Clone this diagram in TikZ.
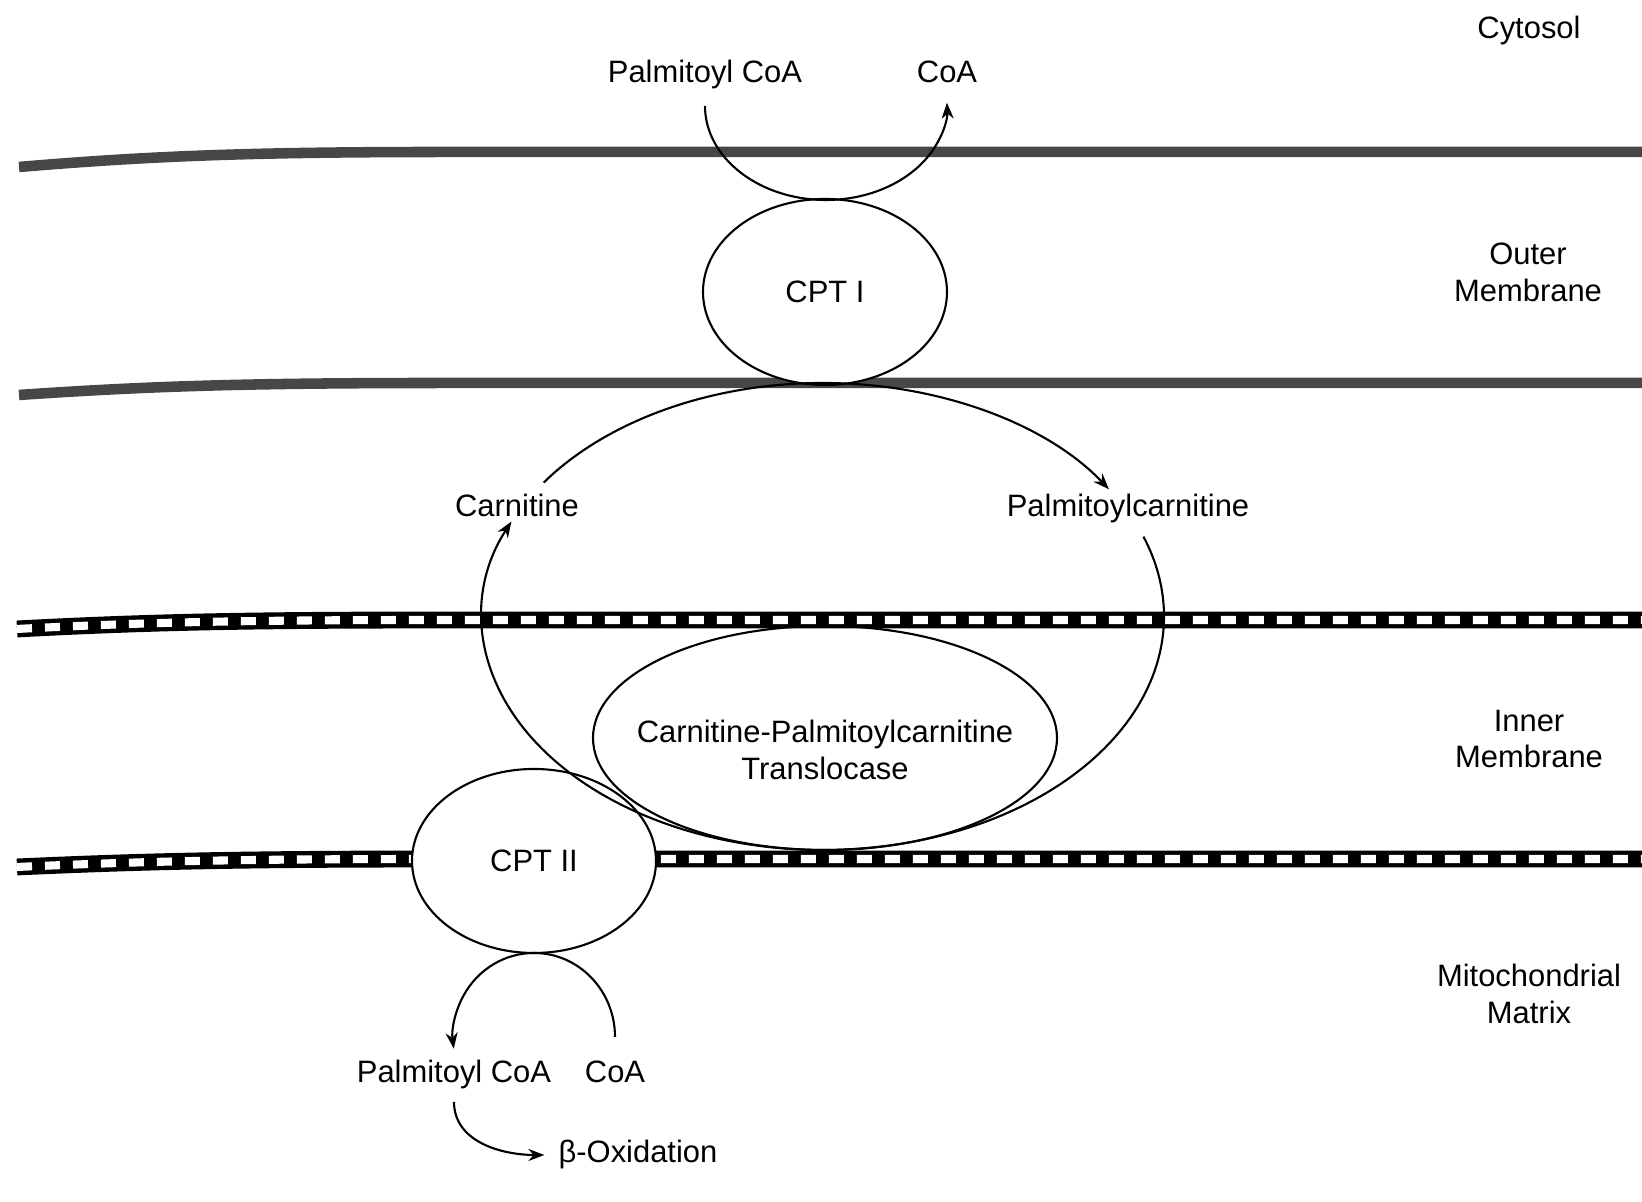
\documentclass[tikz,border=0pt]{standalone}
\usepackage{fontspec}
\setmainfont{Liberation Sans}
\usepackage{tikz}
\usetikzlibrary{arrows.meta}
\usetikzlibrary{shapes.geometric}

\tikzset{
  lbl/.style={font=\fontsize{8.8}{10.5}\selectfont,align=center,inner sep=1pt},
  word/.style={lbl,text height=6.4pt,text depth=1.9pt},
  enz/.style={draw,ellipse,line width=0.6pt,inner sep=0pt,font=\fontsize{8.8}{10.5}\selectfont,align=center},
  flow/.style={line width=0.6pt,-{Stealth[length=1.6mm,width=1.2mm]}},
  outermem/.style={line width=3pt,draw=black!72},
  innermem/.style={line width=2.3pt,draw=white,dash pattern=on 0.15cm off 0.13cm,
    preaction={draw=black,line width=4.8pt,solid}}
}

\begin{document}
\begin{tikzpicture}
        \useasboundingbox (0,0) rectangle (16.42,12.02);
        \draw[outermem] (0.19,10.35) .. controls (1.5,10.46) and (2.5,10.50) .. (4.5,10.50) -- (16.42,10.50);
        \draw[outermem] (0.19,8.07) .. controls (1.5,8.16) and (2.5,8.19) .. (4.5,8.19) -- (16.42,8.19);
        \draw[innermem] (0.17,5.73) .. controls (1.5,5.80) and (2.5,5.82) .. (4.5,5.82) -- (16.42,5.82);
        \draw[innermem] (0.17,3.35) .. controls (1.5,3.41) and (2.5,3.43) .. (4.5,3.43) -- (16.42,3.43);
        \node[enz,fill=white,minimum width=2.44cm,minimum height=1.86cm] (cpt1) at (8.25,9.10) {CPT I};
        \node[enz,fill=white,minimum width=2.44cm,minimum height=1.84cm] (cpt2) at (5.34,3.41) {CPT II};
        \node[enz,minimum width=4.64cm,minimum height=2.24cm,
          label={[lbl,yshift=-1.2mm]center:Carnitine-Palmitoylcarnitine\\Translocase}] (trans) at (8.25,4.64) {};
        \coordinate (loopc) at (8.23,5.855);
        \coordinate (cpt1arc) at (8.26,10.96);
        \coordinate (cpt2arc) at (5.34,1.65);
        \draw[flow] (cpt1arc) ++(180:1.21 and 0.94) arc[start angle=180,end angle=362,x radius=1.21,y radius=0.94];
        \draw[flow] (loopc) ++(145:3.41 and 2.335) arc[start angle=145,end angle=33,x radius=3.41,y radius=2.335];
        \draw[flow] (loopc) ++(-90:3.41 and 2.335) arc[start angle=-90,end angle=-204,x radius=3.41,y radius=2.335];
        \draw[line width=0.6pt] (loopc) ++(20:3.41 and 2.335) arc[start angle=20,end angle=-90,x radius=3.41,y radius=2.335];
        \draw[flow] (cpt2arc) ++(0:0.81 and 0.84) arc[start angle=0,end angle=188,x radius=0.81,y radius=0.84];
        \node[word] (cyto) at (15.29,11.71) {Cytosol};
        \node[lbl] (outm) at (15.28,9.30) {Outer\\Membrane};
        \node[lbl] (innm) at (15.29,4.63) {Inner\\Membrane};
        \node[lbl] (matx) at (15.29,2.08) {Mitochondrial\\Matrix};
        \node[word] (pcoa1) at (7.05,11.27) {Palmitoyl CoA};
        \node[word] (coa1) at (9.47,11.27) {CoA};
        \node[word] (carn) at (5.17,6.93) {Carnitine};
        \node[word] (pcarn) at (11.28,6.93) {Palmitoylcarnitine};
        \node[word] (pcoa2) at (4.54,1.27) {Palmitoyl CoA};
        \node[word] (coa2) at (6.15,1.27) {CoA};
        \node[word] (boxi) at (6.38,0.47) {β-Oxidation};
        \draw[flow] ([yshift=-0.8mm]pcoa2.south) to[out=-90,in=180] ([xshift=-1mm]boxi.west);
    \end{tikzpicture}
\end{document}
